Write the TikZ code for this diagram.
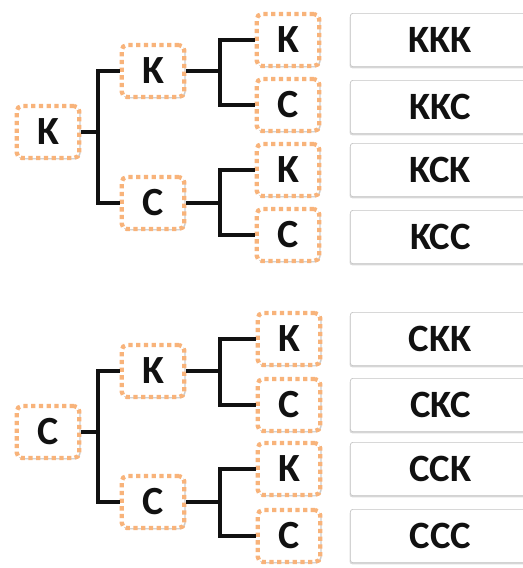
\documentclass[tikz,border=0pt]{standalone}
\usepackage{fontspec}
\setmainfont{Carlito}
\usetikzlibrary{shadows}
\definecolor{Dots}{HTML}{F8B37A}
\definecolor{Edge}{HTML}{C4C4C4}
\definecolor{Ink}{HTML}{111111}
\begin{document}
\begin{tikzpicture}[x=0.75pt,y=-0.75pt,every node/.style={text=Ink},
coin/.style={draw=Dots,fill=white,line width=3.2pt,dash pattern=on 3.2pt off 2.6pt,rounded corners=4pt,minimum width=47pt,minimum height=39pt,font=\bfseries\fontsize{30}{32}\selectfont,drop shadow={shadow xshift=0.9pt,shadow yshift=-1pt,opacity=0.4}},
outcome/.style={draw=Edge,fill=white,line width=0.5pt,rounded corners=2pt,anchor=west,minimum width=135pt,minimum height=40pt,font=\bfseries\fontsize{29}{32}\selectfont,drop shadow={shadow xshift=-0.6pt,shadow yshift=-1.2pt,opacity=0.3}},
line/.style={draw=Ink,line width=2.3pt},stub/.style={draw=Ink,line width=3.6pt}]
\useasboundingbox (0,0) rectangle (523,568);

% first toss K
\node[coin] (r1) at (48,132) {K};
\node[coin] (a1) at (153,71) {K};\node[coin] (b1) at (153,203) {C};
\node[coin] (a1k) at (288,40) {K};\node[coin] (a1c) at (288,105) {C};
\node[coin] (b1k) at (288,170) {K};\node[coin] (b1c) at (288,235) {C};
\coordinate (s1) at (98,132);\coordinate (t1) at (220,71);\coordinate (u1) at (220,203);
\draw[stub] (r1.east)--(s1);\draw[line] (s1) |- (a1.west);\draw[line] (s1) |- (b1.west);
\draw[line] (a1.east)--(t1);\draw[line] (t1) |- (a1k.west);\draw[line] (t1) |- (a1c.west);
\draw[stub] (b1.east)--(u1);\draw[line] (u1) |- (b1k.west);\draw[line] (u1) |- (b1c.west);

% first toss C
\node[coin] (r2) at (48,432) {C};
\node[coin] (a2) at (153,371) {K};\node[coin] (b2) at (153,502) {C};
\node[coin] (a2k) at (289,339) {K};\node[coin] (a2c) at (289,405) {C};
\node[coin] (b2k) at (289,469) {K};\node[coin] (b2c) at (289,536) {C};
\coordinate (s2) at (98,432);\coordinate (t2) at (220,371);\coordinate (u2) at (220,502);
\draw[stub] (r2.east)--(s2);\draw[line] (s2) |- (a2.west);\draw[line] (s2) |- (b2.west);
\draw[line] (a2.east)--(t2);\draw[line] (t2) |- (a2k.west);\draw[line] (t2) |- (a2c.west);
\draw[stub] (b2.east)--(u2);\draw[line] (u2) |- (b2k.west);\draw[line] (u2) |- (b2c.west);

% outcomes
\foreach \t/\y [count=\i] in {KKK/40,KKC/107,KCK/170,KCC/237,CKK/339,CKC/405,CCK/469,CCC/536}
  \node[outcome] (o\i) at (350,\y) {\t};
\end{tikzpicture}
\end{document}
